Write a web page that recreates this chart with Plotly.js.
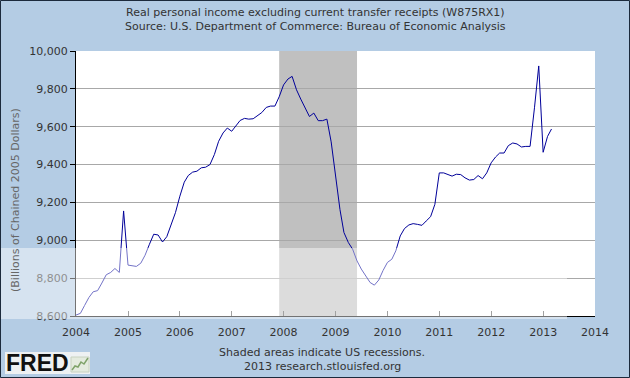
<!DOCTYPE html>
<html>
<head>
<meta charset="utf-8">
<script src="https://cdn.plot.ly/plotly-3.0.1.min.js"></script>
<style>
  html, body { margin: 0; padding: 0; background: #b4cce4; }
  #chart { width: 630px; height: 378px; }
</style>
</head>
<body>
<div id="chart"></div>
<script>
// Monthly values, Billions of Chained 2005 Dollars
const years = [2004, 2005, 2006, 2007, 2008, 2009, 2010, 2011, 2012, 2013];
const v2004 = [8605, 8614, 8655, 8698, 8728, 8734, 8774, 8818, 8830, 8851, 8830, 9155];
const v2005 = [8869, 8865, 8862, 8879, 8921, 8979, 9032, 9028, 8991, 9019, 9084, 9146];
const v2006 = [9233, 9307, 9342, 9360, 9365, 9383, 9386, 9400, 9453, 9523, 9567, 9593];
const v2007 = [9576, 9605, 9633, 9644, 9640, 9642, 9658, 9675, 9702, 9709, 9709, 9758];
const v2008 = [9821, 9852, 9866, 9795, 9746, 9698, 9654, 9672, 9632, 9632, 9640, 9520];
const v2009 = [9335, 9162, 9041, 8988, 8953, 8891, 8848, 8809, 8777, 8763, 8790, 8840];
const v2010 = [8883, 8900, 8944, 9023, 9062, 9081, 9088, 9084, 9079, 9102, 9125, 9190];
const v2011 = [9356, 9356, 9347, 9339, 9349, 9347, 9330, 9318, 9321, 9342, 9325, 9356];
const v2012 = [9409, 9440, 9461, 9461, 9500, 9514, 9509, 9493, 9496, 9496, 9700, 9921];
const v2013 = [9465, 9549, 9588];
const yearValues = [v2004, v2005, v2006, v2007, v2008, v2009, v2010, v2011, v2012, v2013];

const recessionStart = ['2007-12-01'];
const recessionEnd = ['2009-06-01'];

const yTickVals = [8600, 8800, 9000, 9200, 9400, 9600, 9800, 10000];

const titleLine1 = 'Real personal income excluding current transfer receipts (W875RX1)';
const titleLine2 = 'Source: U.S. Department of Commerce: Bureau of Economic Analysis';
const yTitle = '(Billions of Chained 2005 Dollars)';
const note1 = 'Shaded areas indicate US recessions.';
const note2 = '2013 research.stlouisfed.org';

const dates = [];
const values = [];
years.forEach((yr, i) => {
  yearValues[i].forEach((v, m) => {
    dates.push(yr + '-' + String(m + 1).padStart(2, '0') + '-01');
    values.push(v);
  });
});

// figure geometry helpers (pixels -> paper)
const W = 630, H = 378, L = 76, R = 35, T = 51, B = 62;
const PW = W - L - R, PH = H - T - B;
const px = x => (x - L) / PW;
const py = y => (H - B - y) / PH;

const font = 'DejaVu Sans, Verdana, sans-serif';

const shapes = [];
recessionStart.forEach((s, i) => {
  shapes.push({
    type: 'rect', xref: 'x', yref: 'paper', x0: s, x1: recessionEnd[i], y0: 0, y1: 1,
    fillcolor: '#c0c0c0', line: {width: 0}, layer: 'between'
  });
});
// photobucket-like light band
shapes.push({
  type: 'rect', xref: 'paper', yref: 'paper', x0: px(0), x1: px(567), y0: py(319), y1: py(248),
  fillcolor: 'rgba(255,255,255,0.45)', line: {width: 0}, layer: 'above'
});
// FRED logo background box
shapes.push({
  type: 'rect', xref: 'paper', yref: 'paper', x0: px(5), x1: px(90), y0: py(374), y1: py(352),
  fillcolor: '#eef1f3', line: {width: 0}, layer: 'above'
});
// FRED icon
shapes.push({
  type: 'rect', xref: 'paper', yref: 'paper', x0: px(71), x1: px(89), y0: py(372), y1: py(357),
  fillcolor: '#e4ebdf', line: {width: 1, color: '#c8d2c0'}, layer: 'above'
});
shapes.push({
  type: 'path', xref: 'paper', yref: 'paper',
  path: 'M ' + px(72) + ' ' + py(370) + ' L ' + px(75) + ' ' + py(366) + ' L ' + px(78) + ' ' + py(367) +
        ' L ' + px(81) + ' ' + py(362) + ' L ' + px(84) + ' ' + py(364) + ' L ' + px(88) + ' ' + py(358),
  line: {width: 1.5, color: '#7fa36a'}, layer: 'above'
});
// outer border
shapes.push({
  type: 'rect', xref: 'paper', yref: 'paper', x0: px(0.5), x1: px(629.5), y0: py(377.5), y1: py(0.5),
  fillcolor: 'rgba(0,0,0,0)', line: {width: 1, color: '#1c2a3c'}, layer: 'above'
});

const annotations = [
  {text: titleLine1, xref: 'paper', yref: 'paper', x: px(315), y: py(12), showarrow: false,
   xanchor: 'center', yanchor: 'middle', font: {family: font, size: 11, color: '#333'}},
  {text: titleLine2, xref: 'paper', yref: 'paper', x: px(315), y: py(26), showarrow: false,
   xanchor: 'center', yanchor: 'middle', font: {family: font, size: 11, color: '#333'}},
  {text: yTitle, xref: 'paper', yref: 'paper', x: px(15), y: py(200), showarrow: false, textangle: -90,
   xanchor: 'center', yanchor: 'middle', font: {family: font, size: 11, color: '#666'}},
  {text: note1, xref: 'paper', yref: 'paper', x: px(322), y: py(352), showarrow: false,
   xanchor: 'center', yanchor: 'middle', font: {family: font, size: 11, color: '#333'}},
  {text: note2, xref: 'paper', yref: 'paper', x: px(322), y: py(366), showarrow: false,
   xanchor: 'center', yanchor: 'middle', font: {family: font, size: 11, color: '#333'}},
  {text: '<b>FRED</b>', xref: 'paper', yref: 'paper', x: px(37), y: py(363), showarrow: false,
   xanchor: 'center', yanchor: 'middle', font: {family: 'Liberation Sans, Arial, sans-serif', size: 23, color: '#111'}}
];

const trace = {
  x: dates, y: values, type: 'scatter', mode: 'lines',
  line: {color: '#000099', width: 1}, hoverinfo: 'skip'
};

const layout = {
  width: W, height: H,
  margin: {l: L, r: R, t: T, b: B, pad: 0},
  paper_bgcolor: '#b4cce4', plot_bgcolor: '#ffffff',
  showlegend: false,
  font: {family: font, size: 11, color: '#333'},
  xaxis: {
    type: 'date', range: ['2004-01-01', '2014-01-01'],
    tick0: '2004-01-01', dtick: 'M12', tickformat: '%Y',
    ticks: 'inside', ticklen: 5, tickcolor: '#555', tickwidth: 1,
    ticklabelstandoff: 6,
    showline: true, linecolor: '#000', linewidth: 1,
    showgrid: false, zeroline: false,
    tickfont: {family: font, size: 11, color: '#333'}
  },
  yaxis: {
    range: [8600, 10000], tickvals: yTickVals, tickformat: ',',
    ticks: 'outside', ticklen: 5, tickcolor: '#000', tickwidth: 1,
    showline: true, linecolor: '#000', linewidth: 1,
    showgrid: true, gridcolor: '#a8a8a8', gridwidth: 1, zeroline: false,
    tickfont: {family: font, size: 11, color: '#333'}
  },
  shapes: shapes,
  annotations: annotations
};

Plotly.newPlot('chart', [trace], layout, {staticPlot: true, displayModeBar: false});
</script>
</body>
</html>
